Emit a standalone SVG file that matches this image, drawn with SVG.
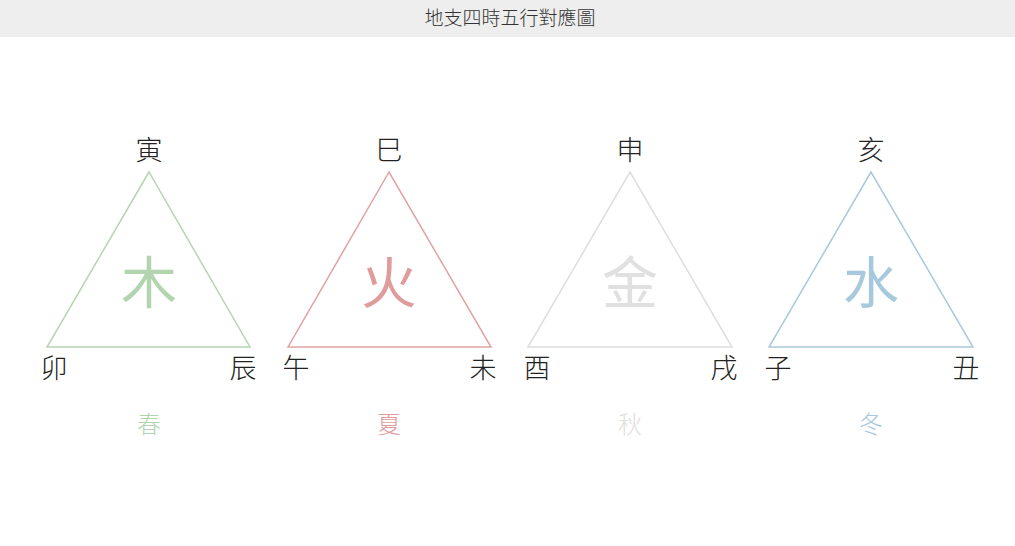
<svg xmlns="http://www.w3.org/2000/svg" width="1015" height="546" viewBox="0 0 1015 546">
<style>
text{font-family:"Noto Sans CJK TC","Noto Sans CJK SC",sans-serif;text-anchor:middle;dominant-baseline:central}
.title{font-size:19px;fill:#333;font-weight:300}
.br{font-size:27px;fill:#222;font-weight:300}
.el{font-size:56px;font-weight:400}
.se{font-size:24px;font-weight:300}
.tri{fill:none;stroke-width:1.5}
.wood{stroke:#b6d4b2}.woodt{fill:#b2d4ae}
.fire{stroke:#e0a2a2}.firet{fill:#e09c9c}
.metal{stroke:#dedede}.metalt{fill:#e0e0e0}
.water{stroke:#a9c9dc}.watert{fill:#a7c8dd}
</style>
<rect width="1015" height="546" fill="#ffffff"/>
<g id="header">
<rect x="0" y="0" width="1015" height="37" fill="#eeeeee"/>
<text class="title" x="510" y="16">地支四時五行對應圖</text>
</g>
<g id="connectors">
<polygon class="tri wood" points="149,172 47,347 250,347"/>
<polygon class="tri fire" points="389,172 288,347 491,347"/>
<polygon class="tri metal" points="630,172 528,347 732,347"/>
<polygon class="tri water" points="871,172 769,347 973,347"/>
</g>
<g id="wood">
<text class="br" x="149" y="148">寅</text>
<text class="br" x="54" y="366">卯</text>
<text class="br" x="243" y="366">辰</text>
<text class="el woodt" x="149" y="278">木</text>
<text class="se woodt" x="149" y="422">春</text>
</g>
<g id="fire">
<text class="br" x="389" y="148">巳</text>
<text class="br" x="296" y="366">午</text>
<text class="br" x="483" y="366">未</text>
<text class="el firet" x="389" y="278">火</text>
<text class="se firet" x="389" y="422">夏</text>
</g>
<g id="metal">
<text class="br" x="630" y="148">申</text>
<text class="br" x="537" y="366">酉</text>
<text class="br" x="724" y="366">戌</text>
<text class="el metalt" x="630" y="278">金</text>
<text class="se metalt" x="630" y="422">秋</text>
</g>
<g id="water">
<text class="br" x="871" y="148">亥</text>
<text class="br" x="778" y="366">子</text>
<text class="br" x="966" y="366">丑</text>
<text class="el watert" x="871" y="278">水</text>
<text class="se watert" x="871" y="422">冬</text>
</g>
</svg>
